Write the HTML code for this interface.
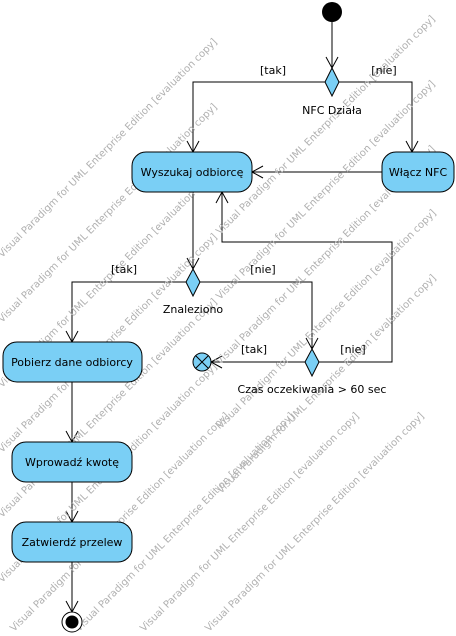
<!DOCTYPE html>
<html><head><meta charset="utf-8"><style>
html,body{margin:0;padding:0;background:#fff;width:456px;height:636px;overflow:hidden}
svg{display:block;overflow:hidden}
.t{font-family:"DejaVu Sans","Liberation Sans",sans-serif;font-size:11px;fill:#000}
.w{font-family:"DejaVu Sans","Liberation Sans",sans-serif;font-size:10px;fill:#b0b0b0}
</style></head><body>
<svg width="456" height="636" viewBox="0 0 456 636" xmlns="http://www.w3.org/2000/svg">
<g fill="none" stroke="#000" stroke-width="1">
<line x1="332" y1="22" x2="332" y2="68"/><path d="M326,57 L332,68 L338,57"/>
<polyline points="325,82 193,82 193,152"/><path d="M187,141 L193,152 L199,141"/>
<polyline points="339,82 412,82 412,152"/><path d="M406,141 L412,152 L418,141"/>
<line x1="382" y1="172" x2="252" y2="172"/><path d="M263,166 L252,172 L263,178"/>
<line x1="193" y1="192" x2="193" y2="269"/><path d="M187,258 L193,269 L199,258"/>
<polyline points="319,362 392,362 392,242 222,242 222,192"/><path d="M216,203 L222,192 L228,203"/>
<polyline points="186,282 72,282 72,342"/><path d="M66,331 L72,342 L78,331"/>
<polyline points="200,282 312,282 312,349"/><path d="M306,338 L312,349 L318,338"/>
<line x1="305" y1="362" x2="211" y2="362"/><path d="M222,356 L211,362 L222,368"/>
<line x1="72" y1="382" x2="72" y2="442"/><path d="M66,431 L72,442 L78,431"/>
<line x1="72" y1="482" x2="72" y2="522"/><path d="M66,511 L72,522 L78,511"/>
<line x1="72" y1="562" x2="72" y2="612"/><path d="M66,601 L72,612 L78,601"/>
</g>
<g class="w">
<text transform="translate(2,258) rotate(-45)">Visual Paradigm for UML Enterprise Edition [evaluation copy]</text>
<text transform="translate(2,323) rotate(-45)">Visual Paradigm for UML Enterprise Edition [evaluation copy]</text>
<text transform="translate(2,388) rotate(-45)">Visual Paradigm for UML Enterprise Edition [evaluation copy]</text>
<text transform="translate(2,453) rotate(-45)">Visual Paradigm for UML Enterprise Edition [evaluation copy]</text>
<text transform="translate(220,235) rotate(-45)">Visual Paradigm for UML Enterprise Edition [evaluation copy]</text>
<text transform="translate(2,518) rotate(-45)">Visual Paradigm for UML Enterprise Edition [evaluation copy]</text>
<text transform="translate(220,300) rotate(-45)">Visual Paradigm for UML Enterprise Edition [evaluation copy]</text>
<text transform="translate(2,583) rotate(-45)">Visual Paradigm for UML Enterprise Edition [evaluation copy]</text>
<text transform="translate(220,365) rotate(-45)">Visual Paradigm for UML Enterprise Edition [evaluation copy]</text>
<text transform="translate(14,632) rotate(-45)">Visual Paradigm for UML Enterprise Edition [evaluation copy]</text>
<text transform="translate(221,429) rotate(-45)">Visual Paradigm for UML Enterprise Edition [evaluation copy]</text>
<text transform="translate(79,632) rotate(-45)">Visual Paradigm for UML Enterprise Edition [evaluation copy]</text>
<text transform="translate(221,494) rotate(-45)">Visual Paradigm for UML Enterprise Edition [evaluation copy]</text>
<text transform="translate(144,632) rotate(-45)">Visual Paradigm for UML Enterprise Edition [evaluation copy]</text>
<text transform="translate(209,632) rotate(-45)">Visual Paradigm for UML Enterprise Edition [evaluation copy]</text>
</g>
<circle cx="332" cy="12" r="10" fill="#000"/>
<g fill="#7acff5" stroke="#000" stroke-width="1">
<polygon points="332,68 339,82 332,96 325,82"/>
<polygon points="193,269 200,282 193,296 186,282"/>
<polygon points="312,349 319,362 312,376 305,362"/>
<rect x="132" y="152" width="120" height="40" rx="14"/>
<rect x="382" y="152" width="72" height="40" rx="14"/>
<rect x="3" y="342" width="139" height="40" rx="14"/>
<rect x="12" y="442" width="120" height="40" rx="14"/>
<rect x="12" y="522" width="120" height="40" rx="14"/>
<circle cx="202" cy="362" r="9"/>
</g>
<path d="M196,356 L208,368 M208,356 L196,368" stroke="#000"/>
<circle cx="72" cy="622" r="10" fill="#fff" stroke="#000"/>
<circle cx="72" cy="622" r="6.5" fill="#000"/>
<g class="t">
<text x="192" y="176" text-anchor="middle">Wyszukaj odbiorcę</text>
<text x="418" y="176" text-anchor="middle">Włącz NFC</text>
<text x="72" y="366" text-anchor="middle">Pobierz dane odbiorcy</text>
<text x="72" y="466" text-anchor="middle">Wprowadź kwotę</text>
<text x="72" y="546" text-anchor="middle">Zatwierdź przelew</text>
<text x="273" y="74" text-anchor="middle">[tak]</text>
<text x="384" y="74" text-anchor="middle">[nie]</text>
<text x="332" y="114" text-anchor="middle">NFC Działa</text>
<text x="124" y="273" text-anchor="middle">[tak]</text>
<text x="263" y="273" text-anchor="middle">[nie]</text>
<text x="193" y="313" text-anchor="middle">Znaleziono</text>
<text x="254" y="353" text-anchor="middle">[tak]</text>
<text x="353" y="353" text-anchor="middle">[nie]</text>
<text x="312" y="393" text-anchor="middle">Czas oczekiwania &gt; 60 sec</text>
</g>
</svg>
</body></html>
